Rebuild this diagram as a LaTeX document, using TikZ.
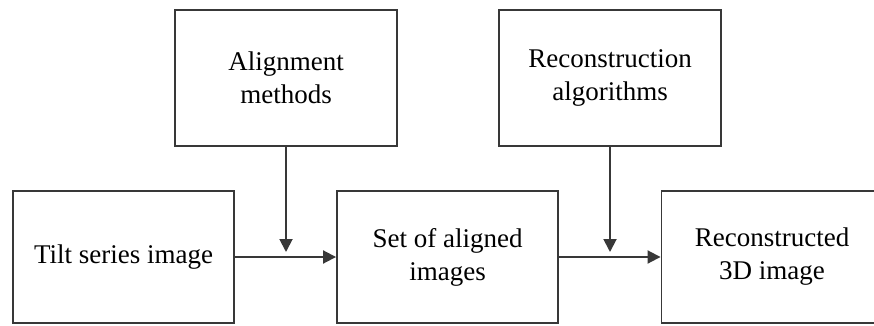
\documentclass[tikz,border=0pt]{standalone}
\usepackage{fontspec}
\setmainfont{Liberation Serif}
\usetikzlibrary{arrows.meta}
\begin{document}
\begin{tikzpicture}[x=1pt,y=1pt,
  box/.style={draw=black!78,line width=1.9pt,rectangle,align=center,
    font=\fontsize{27}{33}\selectfont,inner sep=0pt},
  lowbox/.style={box,minimum width=221pt,minimum height=132pt},
  highbox/.style={box,minimum width=222pt,minimum height=136pt},
  arr/.style={draw=black!78,line width=1.9pt,-{Triangle[length=13pt,width=13pt]}}]
\useasboundingbox (0,0) rectangle (874,325);
\clip (0,0) rectangle (874,325);
\node[lowbox] (tilt) at (123.5,68) {Tilt series image};
\node[lowbox] (set) at (447.5,68) {Set of aligned\\images};
\node[lowbox] (rec) at (772,68) {Reconstructed\\3D image};
\node[highbox] (align) at (286,247) {Alignment\\methods};
\node[highbox] (ralg) at (610,247) {Reconstruction\\algorithms};
\coordinate (j1) at (286,73);
\coordinate (j2) at (610,73);
\draw[arr] (tilt.east) -- (set.west);
\draw[arr] (set.east) -- (rec.west);
\draw[arr] (align.south) -- (j1);
\draw[arr] (ralg.south) -- (j2);
\end{tikzpicture}
\end{document}
